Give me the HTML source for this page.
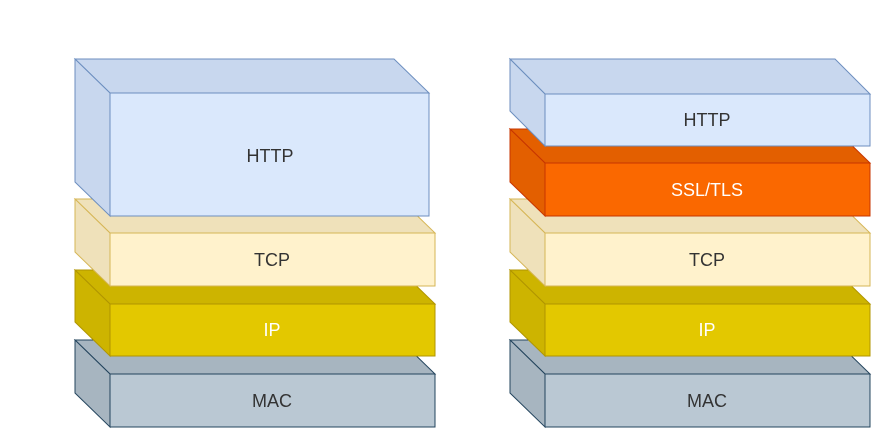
<!DOCTYPE html>
<html><head><style>body{margin:0;background:#fff}svg{display:block}text{font-family:"Liberation Sans",Arial,sans-serif;font-size:18px;text-anchor:middle;dominant-baseline:central}</style></head>
<body>
<svg width="883" height="444" viewBox="0 0 883 444" xmlns="http://www.w3.org/2000/svg">
<defs></defs>
<g id="L">
<!-- MAC -->
<polygon points="75,340 400,340 435,374 110,374" fill="#a7b5c0" stroke="#23445d" stroke-width="1"/>
<polygon points="75,340 110,374 110,427 75,393" fill="#a7b5c0" stroke="#23445d" stroke-width="1"/>
<rect x="110" y="374" width="325" height="53" fill="#bac8d3" stroke="#23445d" stroke-width="1"/>
<text x="272" y="401" fill="#333">MAC</text>
<!-- IP -->
<polygon points="75,270 400,270 435,304 110,304" fill="#cdb400" stroke="#b09500" stroke-width="1"/>
<polygon points="75,270 110,304 110,356 75,322" fill="#cdb400" stroke="#b09500" stroke-width="1"/>
<rect x="110" y="304" width="325" height="52" fill="#e3c800" stroke="#b09500" stroke-width="1"/>
<text x="272" y="330" fill="#fff">IP</text>
<!-- TCP -->
<polygon points="75,199 400,199 435,233 110,233" fill="#efe1ba" stroke="#d6b656" stroke-width="1"/>
<polygon points="75,199 110,233 110,286 75,252" fill="#efe1ba" stroke="#d6b656" stroke-width="1"/>
<rect x="110" y="233" width="325" height="53" fill="#fff2cc" stroke="#d6b656" stroke-width="1"/>
<text x="272" y="260" fill="#333">TCP</text>
</g>
<!-- Left HTTP -->
<polygon points="75,59 394,59 429,93 110,93" fill="#c8d7ee" stroke="#6c8ebf" stroke-width="1"/>
<polygon points="75,59 110,93 110,216 75,182" fill="#c8d7ee" stroke="#6c8ebf" stroke-width="1"/>
<rect x="110" y="93" width="319" height="123" fill="#dae8fc" stroke="#6c8ebf" stroke-width="1"/>
<text x="270" y="156" fill="#333">HTTP</text>
<!-- Right stack -->
<use href="#L" transform="translate(435,0)"/>
<!-- SSL -->
<polygon points="510,129 835,129 870,163 545,163" fill="#e35f00" stroke="#c73500" stroke-width="1"/>
<polygon points="510,129 545,163 545,216 510,182" fill="#e35f00" stroke="#c73500" stroke-width="1"/>
<rect x="545" y="163" width="325" height="53" fill="#fa6800" stroke="#c73500" stroke-width="1"/>
<text x="707" y="190" fill="#fff">SSL/TLS</text>
<!-- HTTP -->
<polygon points="510,59 835,59 870,94 545,94" fill="#c8d7ee" stroke="#6c8ebf" stroke-width="1"/>
<polygon points="510,59 545,94 545,146 510,111" fill="#c8d7ee" stroke="#6c8ebf" stroke-width="1"/>
<rect x="545" y="94" width="325" height="52" fill="#dae8fc" stroke="#6c8ebf" stroke-width="1"/>
<text x="707" y="120" fill="#333">HTTP</text>
</svg>
</body></html>
